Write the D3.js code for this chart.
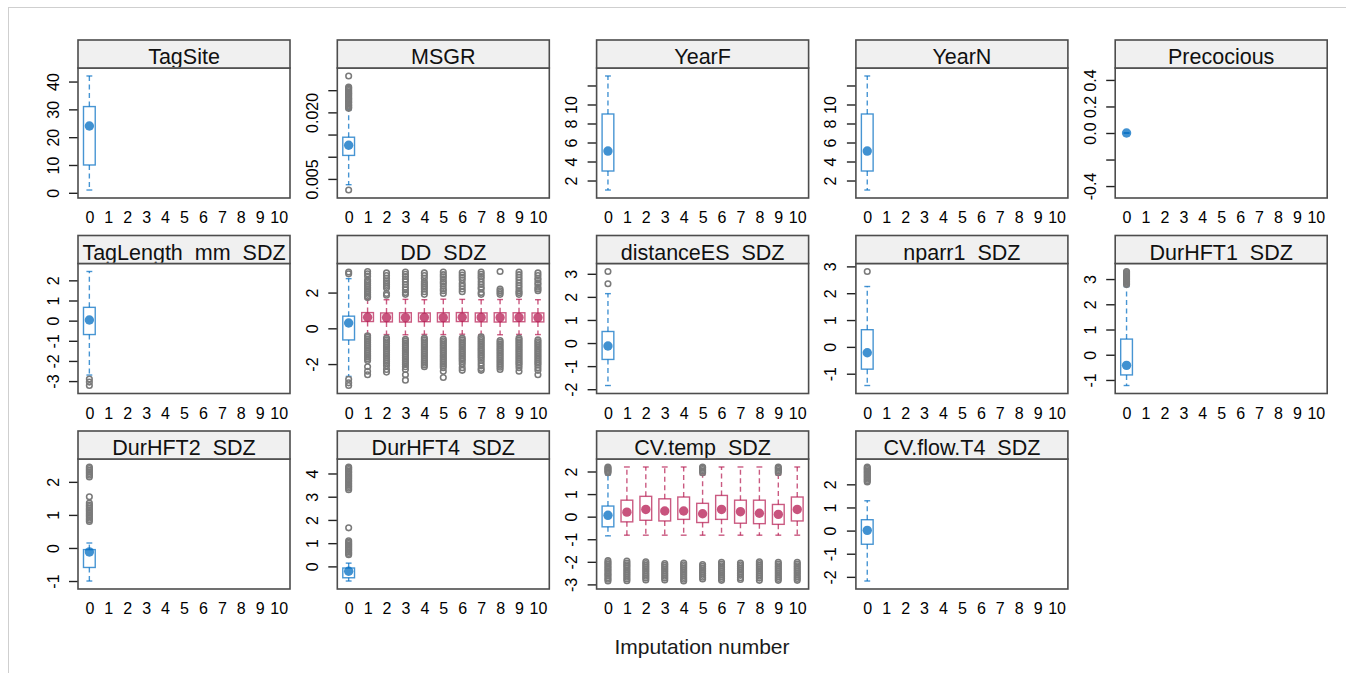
<!DOCTYPE html>
<html><head><meta charset="utf-8">
<script src="https://cdn.jsdelivr.net/npm/d3@7"></script>
<style>
body{margin:0;background:#fff}
svg{display:block}
text{font-family:"Liberation Sans",Arial,Helvetica,sans-serif}
</style>
</head><body>
<svg id="chart" width="1346" height="673"></svg>
<script>
// ---------------- DATA ----------------
const imputations = ["0","1","2","3","4","5","6","7","8","9","10"];
const panelNames = ["TagSite","MSGR","YearF","YearN","Precocious",
  "TagLength_mm_SDZ","DD_SDZ","distanceES_SDZ","nparr1_SDZ","DurHFT1_SDZ",
  "DurHFT2_SDZ","DurHFT4_SDZ","CV.temp_SDZ","CV.flow.T4_SDZ"];
const xAxisTitle = "Imputation number";

const yTickValues = [
  [0,10,20,30,40],
  [0.005,0.010,0.015,0.020,0.025,0.030],
  [2,4,6,8,10,12],
  [2,4,6,8,10,12],
  [-0.4,-0.2,0,0.2,0.4],
  [-3,-2,-1,0,1,2],
  [-2,0,2],
  [-2,-1,0,1,2,3],
  [-1,0,1,2,3],
  [-1,0,1,2,3],
  [-1,0,1,2],
  [0,1,2,3,4],
  [-3,-2,-1,0,1,2],
  [-2,-1,0,1,2]
];
const yTickLabels = [
  ["0","10","20","30","40"],
  ["0.005","","","0.020","",""],
  ["2","4","6","8","10",""],
  ["2","4","6","8","10",""],
  ["-0.4","","0.0","0.2","0.4"],
  ["-3","-2","-1","0","1","2"],
  ["-2","0","2"],
  ["-2","-1","0","1","2","3"],
  ["-1","0","1","2","3"],
  ["-1","0","1","2","3"],
  ["-1","0","1","2"],
  ["0","1","2","3","4"],
  ["-3","-2","-1","0","1","2"],
  ["-2","-1","0","1","2"]
];

// observed data (imputation 0): [lower whisker, Q1, median, Q3, upper whisker]
const observedStats = [
  [1, 10, 24, 31, 42],
  [0.0037, 0.0103, 0.0126, 0.0144, 0.0206],
  [1, 3, 5.1, 9, 13],
  [1, 3, 5.1, 9, 13],
  [0, 0, 0, 0, 0],
  [-2.7, -0.69, 0.03, 0.66, 2.44],
  [-2.69, -0.65, 0.3, 0.68, 2.78],
  [-1.84, -0.71, -0.13, 0.5, 2.14],
  [-1.44, -0.83, -0.22, 0.64, 2.25],
  [-1.22, -0.8, -0.42, 0.62, 2.7],
  [-1.0, -0.59, -0.12, -0.05, 0.15],
  [-0.63, -0.49, -0.21, -0.07, 0.14],
  [-0.85, -0.45, 0.06, 0.47, 1.85],
  [-2.18, -0.59, 0.01, 0.47, 1.29]
];
const observedOutliers = [
  [],
  [0.0025, 0.0282, 0.0209, 0.0211, 0.0214, 0.0216, 0.0219, 0.0222, 0.0224, 0.0227, 0.0230, 0.0232, 0.0235, 0.0238, 0.0241, 0.0243, 0.0246, 0.0249, 0.0252, 0.0255, 0.0257],
  [],
  [],
  [],
  [-2.9, -3.05, -3.22],
  [3.05, 3.15, -2.85, -3.05, -3.2],
  [2.57, 3.1],
  [2.81],
  [2.78, 2.83, 2.88, 2.92, 2.97, 3.01, 3.05, 3.1, 3.14, 3.18, 3.22, 3.26, 3.3],
  [2.15, 2.2, 2.25, 2.3, 2.35, 2.4, 2.45, 1.55, 0.8, 0.85, 0.9, 0.95, 1.0, 1.05, 1.1, 1.15, 1.2, 1.25, 1.3, 1.36],
  [3.3, 3.37, 3.44, 3.5, 3.57, 3.64, 3.7, 3.77, 3.84, 3.9, 3.97, 4.04, 4.1, 4.17, 4.23, 4.28, 1.66, 0.5, 0.56, 0.62, 0.68, 0.74, 0.8, 0.86, 0.92, 0.98, 1.04, 1.1],
  [1.95, 2.0, 2.05, 2.1, 2.15, 2.2, -1.95, -2.03, -2.1, -2.18, -2.25, -2.33, -2.4, -2.48, -2.55, -2.62, -2.7, -2.77, -2.85],
  [2.1, 2.16, 2.22, 2.28, 2.34, 2.4, 2.46, 2.52, 2.58, 2.64, 2.7, 2.75]
];

// imputed data (imputations 1..10) for DD_SDZ
const ddImputedStats = [
  [-0.32, 0.38, 0.62, 0.88, 1.62],
  [-0.35, 0.36, 0.6, 0.86, 1.6],
  [-0.36, 0.35, 0.6, 0.87, 1.62],
  [-0.34, 0.37, 0.61, 0.86, 1.6],
  [-0.35, 0.36, 0.6, 0.87, 1.63],
  [-0.33, 0.38, 0.62, 0.88, 1.62],
  [-0.35, 0.36, 0.61, 0.86, 1.6],
  [-0.36, 0.35, 0.6, 0.87, 1.61],
  [-0.34, 0.37, 0.61, 0.87, 1.62],
  [-0.35, 0.36, 0.6, 0.86, 1.6]
];
const ddImputedOutliers = [
  [3.18, 3.05, 2.92, 2.7, 2.6, 2.5, 2.4, 2.3, 2.2, 2.1, 2.0, 1.9, 1.8, 1.72, -0.42, -0.5, -0.6, -0.7, -0.8, -0.9, -1.0, -1.1, -1.2, -1.3, -1.4, -1.5, -1.6, -1.7, -1.8, -2.15, -2.4, -2.6],
  [3.1, 2.95, 2.8, 2.65, 2.55, 2.45, 2.35, 2.25, 1.95, 1.85, -0.55, -0.65, -0.75, -0.85, -0.95, -1.05, -1.15, -1.25, -1.35, -1.45, -1.55, -1.65, -1.75, -1.85, -1.95, -2.1, -2.3, -2.45],
  [3.15, 3.02, 2.9, 2.75, 2.6, 2.45, 2.3, 2.15, 2.0, 1.9, -0.62, -0.72, -0.82, -0.92, -1.02, -1.12, -1.22, -1.32, -1.42, -1.52, -1.62, -1.72, -1.82, -1.92, -2.02, -2.15, -2.3, -2.6, -2.9],
  [3.1, 2.95, 2.8, 2.6, 2.5, 2.4, 2.3, 2.2, 2.05, 1.9, -0.55, -0.65, -0.75, -0.85, -0.95, -1.05, -1.15, -1.25, -1.35, -1.45, -1.55, -1.65, -1.75, -1.85, -1.95, -2.05, -2.15],
  [3.15, 3.0, 2.88, 2.75, 2.6, 2.5, 2.35, 2.2, 2.1, 1.95, -0.6, -0.7, -0.8, -0.9, -1.0, -1.1, -1.2, -1.3, -1.4, -1.5, -1.6, -1.7, -1.8, -1.9, -2.0, -2.1, -2.2, -2.4, -2.75],
  [3.12, 2.98, 2.85, 2.7, 2.5, 2.35, 2.2, 2.05, -0.55, -0.65, -0.75, -0.85, -0.95, -1.05, -1.15, -1.25, -1.35, -1.45, -1.55, -1.65, -1.75, -1.85, -2.0, -2.2, -2.35],
  [3.15, 3.02, 2.9, 2.78, 2.6, 2.45, 2.3, 2.2, 2.0, 1.9, -0.48, -0.58, -0.68, -0.78, -0.88, -0.98, -1.08, -1.18, -1.28, -1.38, -1.48, -1.58, -1.68, -1.8, -1.95, -2.1, -2.25, -2.35],
  [3.18, 2.2, 2.1, 2.0, 1.9, -0.68, -0.78, -0.88, -0.98, -1.08, -1.18, -1.28, -1.38, -1.48, -1.58, -1.68, -1.78, -1.88, -1.98, -2.08, -2.18, -2.3],
  [3.15, 3.0, 2.85, 2.7, 2.55, 2.4, 2.25, 2.1, 2.0, 1.9, -0.55, -0.65, -0.75, -0.85, -0.95, -1.05, -1.15, -1.25, -1.35, -1.45, -1.55, -1.65, -1.75, -1.85, -1.95, -2.05, -2.2, -2.4],
  [3.1, 2.95, 2.8, 2.7, 2.55, 2.45, 2.3, 2.2, 2.1, -0.65, -0.75, -0.85, -0.95, -1.05, -1.15, -1.25, -1.35, -1.45, -1.55, -1.65, -1.75, -1.85, -1.95, -2.05, -2.2, -2.35, -2.6]
];

// imputed data (imputations 1..10) for CV.temp_SDZ
const cvImputedStats = [
  [-0.82, -0.23, 0.2, 0.73, 2.2],
  [-0.82, -0.16, 0.32, 0.9, 2.2],
  [-0.82, -0.19, 0.25, 0.79, 2.2],
  [-0.82, -0.12, 0.25, 0.87, 2.2],
  [-0.82, -0.26, 0.13, 0.59, 1.85],
  [-0.82, -0.12, 0.32, 0.94, 2.2],
  [-0.82, -0.29, 0.22, 0.73, 2.2],
  [-0.82, -0.31, 0.15, 0.73, 2.2],
  [-0.82, -0.34, 0.1, 0.54, 1.85],
  [-0.82, -0.19, 0.32, 0.87, 2.2]
];
const cvImputedOutliers = [
  [-1.97, -2.05, -2.13, -2.2, -2.28, -2.36, -2.44, -2.52, -2.6, -2.68, -2.76, -2.84],
  [-2.0, -2.08, -2.16, -2.24, -2.32, -2.4, -2.48, -2.56, -2.64, -2.72, -2.8],
  [-2.08, -2.16, -2.24, -2.32, -2.4, -2.48, -2.56, -2.64, -2.72, -2.8],
  [-2.05, -2.13, -2.21, -2.29, -2.37, -2.45, -2.53, -2.61, -2.69, -2.77, -2.85],
  [1.95, 2.02, 2.09, 2.15, 2.2, -2.12, -2.2, -2.28, -2.36, -2.44, -2.52, -2.6, -2.68, -2.76],
  [-2.02, -2.1, -2.18, -2.26, -2.34, -2.42, -2.5, -2.58, -2.66, -2.74, -2.82],
  [-2.05, -2.13, -2.21, -2.29, -2.37, -2.45, -2.53, -2.6, -2.7, -2.78],
  [-2.0, -2.08, -2.16, -2.24, -2.32, -2.4, -2.48, -2.56, -2.64, -2.72, -2.82],
  [1.95, 2.02, 2.09, 2.15, 2.2, -2.02, -2.1, -2.18, -2.26, -2.34, -2.42, -2.5, -2.58, -2.66, -2.74, -2.82],
  [-2.02, -2.1, -2.18, -2.26, -2.34, -2.42, -2.5, -2.58, -2.66, -2.74, -2.82]
];
const imputedStatsByPanel = {6: ddImputedStats, 12: cvImputedStats};
const imputedOutliersByPanel = {6: ddImputedOutliers, 12: cvImputedOutliers};

// ---------------- LAYOUT / STYLE ----------------
const svg = d3.select("#chart");
const colLeft0 = 78, colStep = 259.3, panelW = 212;
const rowTop0 = 40, rowStep = 195.5, stripH = 28, plotH = 130;
const obsColor = "#006CC2", impColor = "#B61A51", outColor = "#7a7a7a";
const frameColor = "#4d4d4d";
const fontFam = '"Liberation Sans",Arial,sans-serif';

// outer screenshot frame
svg.append("line").attr("x1",8).attr("x2",1346).attr("y1",7.5).attr("y2",7.5)
  .attr("stroke","#cfcfcf").attr("stroke-width",1);
svg.append("line").attr("x1",8.5).attr("x2",8.5).attr("y1",7).attr("y2",673)
  .attr("stroke","#cfcfcf").attr("stroke-width",1);

const x = d3.scalePoint().domain(imputations).range([0, panelW]).padding(0.6);
const boxW = x.step() * 0.62;
const defs = svg.append("defs");

panelNames.forEach((name, i) => {
  const col = i % 5, row = Math.floor(i / 5);
  const left = colLeft0 + col * colStep;
  const plotTop = rowTop0 + row * rowStep + stripH;
  const g = svg.append("g").attr("transform", `translate(${left},${plotTop})`);

  const groups = [{imp: "0", stats: observedStats[i], out: observedOutliers[i], color: obsColor}];
  if (imputedStatsByPanel[i]) {
    imputedStatsByPanel[i].forEach((s, k) => groups.push({
      imp: imputations[k + 1], stats: s, out: imputedOutliersByPanel[i][k], color: impColor}));
  }
  const all = groups.flatMap(d => d.stats.concat(d.out));
  const [mn, mx] = d3.extent(all);
  const pad = (mx - mn) > 0 ? (mx - mn) * 0.07 : 0.49;
  const y = d3.scaleLinear().domain([mn - pad, mx + pad]).range([plotH, 0]);

  g.append("rect").attr("width", panelW).attr("height", plotH).attr("fill", "#fff");

  // y axis
  const ticks = yTickValues[i].filter(v => v >= y.domain()[0] && v <= y.domain()[1]);
  const labs = yTickLabels[i];
  const ya = g.append("g").call(d3.axisLeft(y).tickValues(ticks).tickSize(9)
    .tickFormat(d => labs[yTickValues[i].indexOf(d)]));
  ya.select(".domain").remove();
  ya.selectAll("line").attr("stroke", "#222").attr("stroke-width", 1.4);
  ya.selectAll("text").attr("x", null).attr("dy", null)
    .attr("transform", "translate(-19.5,0) rotate(-90)")
    .attr("text-anchor", "middle").attr("font-size", 16).attr("fill", "#000")
    .style("font-family", fontFam);

  // x axis
  const xa = g.append("g").attr("transform", `translate(0,${plotH})`)
    .call(d3.axisBottom(x).tickSize(0).tickPadding(14));
  xa.select(".domain").remove();
  xa.selectAll("text").attr("font-size", 16).attr("fill", "#000")
    .style("font-family", fontFam);

  // boxes
  groups.forEach(d => {
    const cx = x(d.imp);
    const [lo, q1, med, q3, hi] = d.stats;
    const bg = g.append("g");
    const sOp = 0.72, sW = 1.4;
    bg.append("line").attr("x1", cx).attr("x2", cx).attr("y1", y(q3)).attr("y2", y(hi))
      .attr("stroke", d.color).attr("stroke-opacity", sOp).attr("stroke-width", sW).attr("stroke-dasharray", "5,3.5");
    bg.append("line").attr("x1", cx).attr("x2", cx).attr("y1", y(q1)).attr("y2", y(lo))
      .attr("stroke", d.color).attr("stroke-opacity", sOp).attr("stroke-width", sW).attr("stroke-dasharray", "5,3.5");
    [lo, hi].forEach(v => bg.append("line").attr("x1", cx - boxW / 4).attr("x2", cx + boxW / 4)
      .attr("y1", y(v)).attr("y2", y(v)).attr("stroke", d.color).attr("stroke-opacity", sOp).attr("stroke-width", sW));
    bg.append("rect").attr("x", cx - boxW / 2).attr("width", boxW)
      .attr("y", y(q3)).attr("height", Math.max(0, y(q1) - y(q3)))
      .attr("fill", "none").attr("stroke", d.color).attr("stroke-opacity", sOp).attr("stroke-width", sW);
    bg.append("circle").attr("cx", cx).attr("cy", y(med)).attr("r", 4.7)
      .attr("fill", d.color).attr("fill-opacity", 0.75);
    bg.selectAll("circle.out").data(d.out).enter().append("circle").attr("class", "out")
      .attr("cx", cx).attr("cy", v => y(v)).attr("r", 2.8)
      .attr("fill", "none").attr("stroke", outColor).attr("stroke-width", 1.55);
  });

  g.append("rect").attr("width", panelW).attr("height", plotH)
    .attr("fill", "none").attr("stroke", frameColor).attr("stroke-width", 1.6);

  // strip
  const clipId = "clip" + i;
  defs.append("clipPath").attr("id", clipId).append("rect")
    .attr("x", 0).attr("y", -stripH).attr("width", panelW).attr("height", stripH - 0.8);
  g.append("rect").attr("y", -stripH).attr("width", panelW).attr("height", stripH)
    .attr("fill", "#f0f0f0");
  g.append("text").attr("clip-path", `url(#${clipId})`)
    .attr("x", panelW / 2).attr("y", -3.8).attr("text-anchor", "middle")
    .attr("font-size", 21.5).attr("fill", "#111").text(name);
  g.append("rect").attr("y", -stripH).attr("width", panelW).attr("height", stripH)
    .attr("fill", "none").attr("stroke", frameColor).attr("stroke-width", 1.6);
});

svg.append("text").attr("x", 702).attr("y", 654).attr("text-anchor", "middle")
  .attr("font-size", 21).attr("fill", "#1a1a1a").text(xAxisTitle);
</script>
</body></html>
